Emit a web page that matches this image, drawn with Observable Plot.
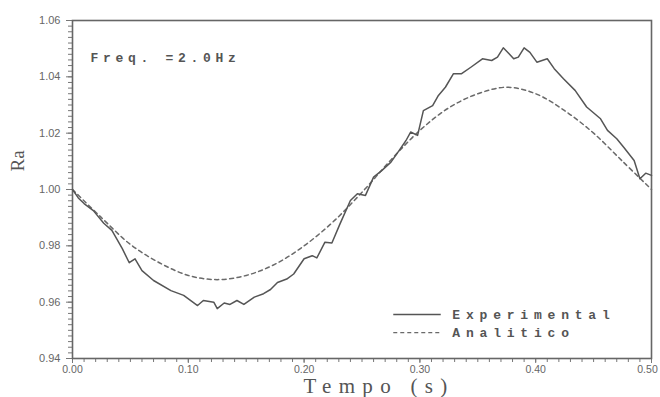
<!DOCTYPE html>
<html>
<head>
<meta charset="utf-8">
<script src="https://cdn.jsdelivr.net/npm/d3@7"></script>
<script src="https://cdn.jsdelivr.net/npm/@observablehq/plot@0.6"></script>
<style>
  html, body { margin: 0; padding: 0; background: #fff; }
  #chart svg { display: block; }
</style>
</head>
<body>
<div id="chart"></div>
<script>
// Experimental series (tempo in s, Ra)
const expT = [0.000,0.005,0.010,0.018,0.027,0.034,0.043,0.049,0.054,0.060,0.070,0.085,0.096,0.108,0.113,0.122,0.125,0.131,0.136,0.142,0.148,0.157,0.165,0.171,0.177,0.185,0.191,0.200,0.207,0.211,0.218,0.224,0.231,0.240,0.246,0.253,0.260,0.267,0.275,0.282,0.288,0.292,0.298,0.303,0.311,0.316,0.322,0.329,0.336,0.344,0.354,0.362,0.367,0.372,0.377,0.381,0.385,0.390,0.395,0.401,0.410,0.416,0.424,0.434,0.444,0.456,0.462,0.470,0.476,0.485,0.490,0.495,0.500];
const expRa = [1.000,0.997,0.995,0.9925,0.988,0.9855,0.979,0.974,0.9754,0.9712,0.9677,0.9641,0.9624,0.9588,0.9606,0.960,0.9577,0.9597,0.9592,0.9606,0.9592,0.9618,0.963,0.9645,0.967,0.9682,0.970,0.9754,0.9765,0.9757,0.9813,0.981,0.9878,0.9961,0.9985,0.9979,1.0044,1.0067,1.0097,1.0138,1.0174,1.0204,1.0192,1.028,1.0298,1.0334,1.0363,1.0411,1.0411,1.0434,1.0464,1.0458,1.047,1.0503,1.0482,1.0464,1.047,1.0503,1.0487,1.0452,1.0464,1.0429,1.0393,1.0352,1.0293,1.0251,1.021,1.018,1.015,1.0103,1.0038,1.0058,1.005];

// Analytic series
const anaT = [0.000,0.025,0.050,0.075,0.100,0.125,0.150,0.175,0.200,0.225,0.250,0.275,0.300,0.325,0.350,0.375,0.400,0.425,0.450,0.475,0.500];
const anaRa = [1.000,0.990,0.9805,0.974,0.9695,0.968,0.9695,0.9735,0.980,0.9885,0.999,1.0105,1.021,1.029,1.034,1.0363,1.034,1.028,1.020,1.010,1.000];

// Axis ticks
const xMajor = [0.00,0.10,0.20,0.30,0.40,0.50];
const yMajor = [0.94,0.96,0.98,1.00,1.02,1.04,1.06];
const xMinor = d3.range(0, 51).map(i => i / 100);
const yMinor = d3.range(0, 61).map(i => 0.94 + i * 0.002);

const seriesNames = ["Experimental", "Analitico"];
const annotation = "Freq. =2.0Hz";
const xTitle = "Tempo (s)";
const yTitle = "Ra";

const expData = expT.map((t, i) => ({t, ra: expRa[i]}));
const anaData = anaT.map((t, i) => ({t, ra: anaRa[i]}));

// legend placement (data units)
const legX1 = 0.277, legX2 = 0.318, legTx = 0.328;
const legY = [0.9556, 0.9492];
const legend = seriesNames.map((name, i) => ({name, y: legY[i]}));

const ink = "#555";
const dashInk = "#6a6a6a";
const monoFont = "'Liberation Mono', 'DejaVu Sans Mono', monospace";

const chart = Plot.plot({
  width: 660,
  height: 397,
  marginLeft: 72,
  marginRight: 9,
  marginTop: 20,
  marginBottom: 39,
  style: {background: "#fff", fontFamily: "'Liberation Sans', Arial, sans-serif"},
  x: {domain: [0, 0.5], label: null},
  y: {domain: [0.94, 1.06], label: null},
  marks: [
    Plot.axisX(xMinor, {tickSize: 4, tickFormat: () => "", stroke: "#777", label: null}),
    Plot.axisY(yMinor, {tickSize: 4, tickFormat: () => "", stroke: "#777", label: null}),
    Plot.axisX(xMajor, {tickSize: 5, tickPadding: 2, tickFormat: d3.format(".2f"), stroke: "#777", fill: "#666", fontSize: 10.5, label: null}),
    Plot.axisY(yMajor, {tickSize: 6, tickPadding: 6, tickFormat: d3.format(".2f"), stroke: "#777", fill: "#666", fontSize: 11, label: null}),
    Plot.frame({stroke: "#666", strokeWidth: 1.6}),
    Plot.line(anaData, {x: "t", y: "ra", stroke: dashInk, strokeWidth: 1.5, strokeDasharray: "4,3.5", curve: "catmull-rom"}),
    Plot.line(expData, {x: "t", y: "ra", stroke: ink, strokeWidth: 1.5}),
    Plot.text([annotation], {frameAnchor: "top-left", dx: 18, dy: 32, text: d => d, textAnchor: "start", fontFamily: monoFont, fontSize: 13, fontWeight: "bold", fill: ink}),
    Plot.link(legend.slice(0, 1), {x1: legX1, x2: legX2, y1: "y", y2: "y", stroke: ink, strokeWidth: 1.4}),
    Plot.link(legend.slice(1, 2), {x1: legX1, x2: legX2, y1: "y", y2: "y", stroke: dashInk, strokeWidth: 1.4, strokeDasharray: "4,3"}),
    Plot.text(legend, {x: legTx, y: "y", text: "name", textAnchor: "start", fontFamily: monoFont, fontSize: 13, fontWeight: "bold", fill: ink}),
    Plot.text([xTitle], {frameAnchor: "bottom", dx: 17, dy: 34, text: d => d, fontFamily: "'Liberation Serif', serif", fontSize: 21, fill: ink}),
    Plot.text([yTitle], {frameAnchor: "left", dx: -55, dy: -18, rotate: -90, text: d => d, fontFamily: "'Liberation Serif', serif", fontSize: 19, fill: ink})
  ]
});

// letter spacing for the plotter-style texts
const spacing = new Map([[annotation, "4.7px"], [seriesNames[0], "5.8px"], [seriesNames[1], "5.8px"], [xTitle, "7.3px"]]);
d3.select(chart).selectAll("text").each(function() {
  const s = spacing.get(this.textContent);
  if (s) this.setAttribute("letter-spacing", s);
  if (this.textContent === "0.50") this.setAttribute("dx", "-4");
});
document.getElementById("chart").appendChild(chart);
</script>
</body>
</html>
